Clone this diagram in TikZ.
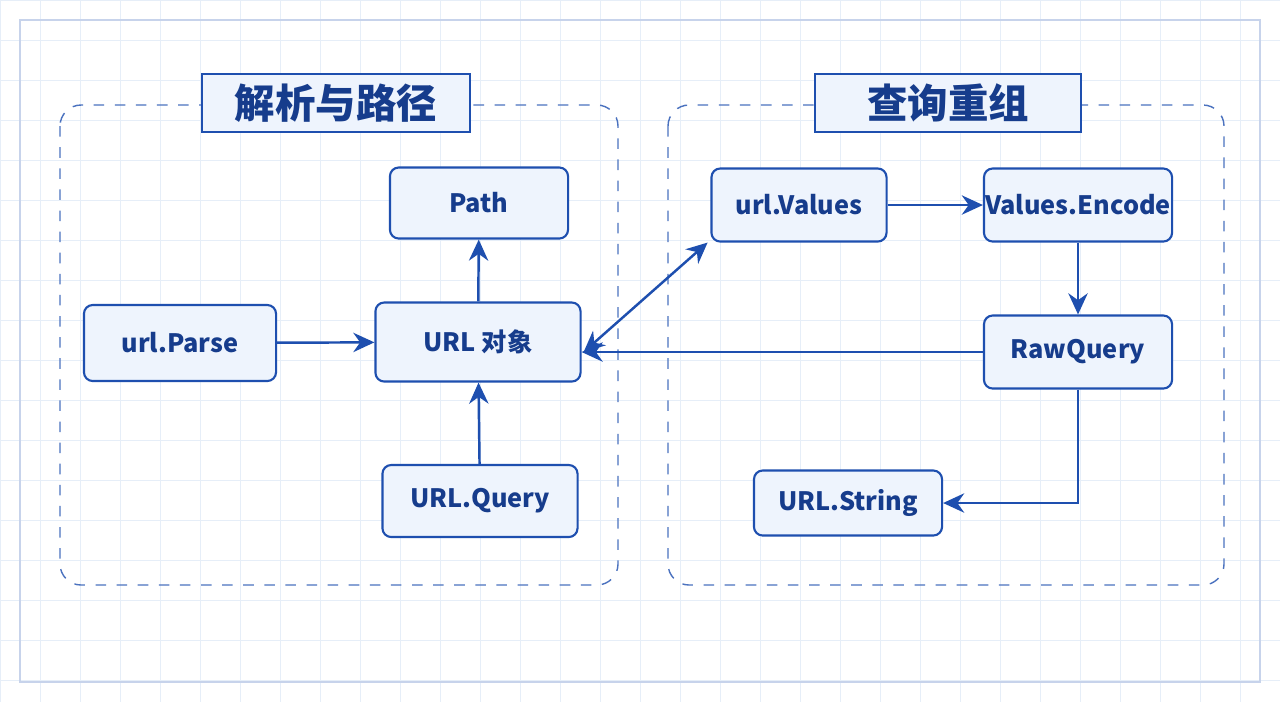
\documentclass[tikz,border=0pt]{standalone}
\usepackage{fontspec}
\setmainfont{Noto Sans CJK SC}
\usetikzlibrary{arrows.meta}
\definecolor{lineblue}{HTML}{1E4FAF}
\definecolor{textblue}{HTML}{163C8C}
\definecolor{boxfill}{HTML}{EEF4FD}
\definecolor{gridc}{HTML}{E6EEF8}
\tikzset{
  >={Stealth[length=6pt,width=5.5pt]},
  box/.style={draw=lineblue, fill=boxfill, rounded corners=2.5pt, line width=0.6pt,
    font=\fontsize{7.2}{9}\selectfont\bfseries, text=textblue, inner sep=0pt},
  group/.style={draw=lineblue!80, dashed, rounded corners=6pt, line width=0.4pt},
  title/.style={draw=lineblue, fill=boxfill, line width=0.6pt, inner sep=0pt,
    font=\fontsize{11.5}{13}\selectfont\bfseries, text=textblue},
  link/.style={draw=lineblue, line width=0.7pt, ->}
}
\begin{document}
\begin{tikzpicture}[x=0.01cm,y=-0.01cm]
        \useasboundingbox (0,0) rectangle (1280,702);
        \fill[white] (0,0) rectangle (1280,702);
        % background grid and frame
        \foreach \gx in {0,40,...,1280} \draw[gridc, line width=0.2pt] (\gx,0) -- (\gx,702);
        \foreach \gy in {0,40,...,702} \draw[gridc, line width=0.2pt] (0,\gy) -- (1280,\gy);
        \draw[lineblue!25, line width=0.5pt] (20,20) rectangle (1260,682);

        % groups
        \draw[group] (60,105) rectangle (618,585);
        \draw[group] (668,105) rectangle (1224,585);
        \node[title, minimum width=2.67cm, minimum height=0.58cm] (tleft) at (336,103) {解析与路径};
        \node[title, minimum width=2.66cm, minimum height=0.58cm] (tright) at (948,103) {查询重组};

        % nodes
        \node[box, minimum width=1.78cm, minimum height=0.71cm] (path) at (479,203) {Path};
        \node[box, minimum width=1.92cm, minimum height=0.76cm] (parse) at (180,343) {url.Parse};
        \node[box, minimum width=2.05cm, minimum height=0.79cm] (urlobj) at (478,342) {URL 对象};
        \node[box, minimum width=1.95cm, minimum height=0.72cm] (query) at (480,501) {URL.Query};
        \node[box, minimum width=1.75cm, minimum height=0.73cm] (values) at (799,205) {url.Values};
        \node[box, minimum width=1.88cm, minimum height=0.73cm] (encode) at (1078,205) {Values.Encode};
        \node[box, minimum width=1.88cm, minimum height=0.73cm] (raw) at (1078,352) {RawQuery};
        \node[box, minimum width=1.88cm, minimum height=0.65cm] (string) at (848,503) {URL.String};

        % connectors
        \draw[link] (parse) -- (urlobj);
        \draw[link] (urlobj) -- (path);
        \draw[link] (query) -- (urlobj);
        \coordinate (uo) at ([shift={(2,10)}]urlobj.east);
        \draw[link, <->] (uo) -- ([xshift=-26]values.south);
        \draw[link] (raw.west) -- (raw.west -| urlobj.east);
        \draw[link] (values) -- (encode);
        \draw[link] (encode) -- (raw);
        \draw[link] (raw.south) |- (string.east);
\end{tikzpicture}
\end{document}
